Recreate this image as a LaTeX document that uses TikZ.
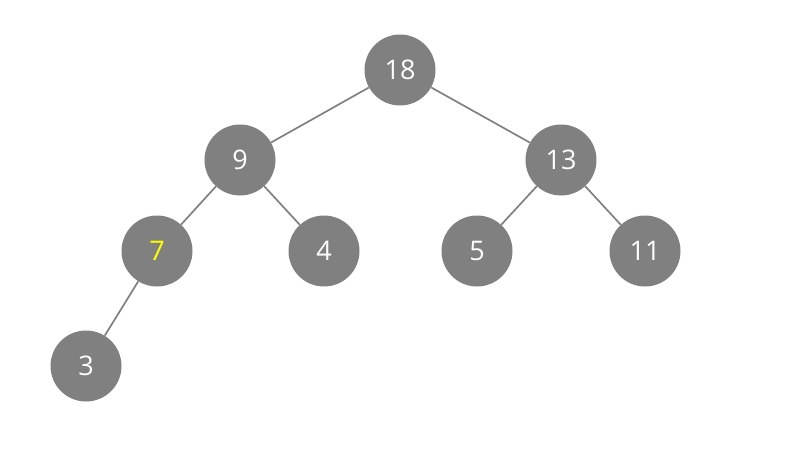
\documentclass[tikz,border=0pt]{standalone}
\usepackage{fontspec}
\setmainfont{Open Sans}
\definecolor{nodeGrey}{HTML}{808080}
\definecolor{edgeGrey}{HTML}{808080}
\definecolor{hiYell}{HTML}{FFFF00}
\begin{document}
\begin{tikzpicture}[x=1pt, y=-1pt, font=\fontsize{27}{27}\selectfont,
    key/.style={circle, fill=nodeGrey, minimum size=71pt, inner sep=0pt, text=white},
    link/.style={draw=edgeGrey, line width=1.7pt}]
  % canvas (800 x 450)
  \useasboundingbox (0,0) rectangle (800,450);

  % ---------------- keys
  \node[key] (k18) at (400,70) {18};
  \node[key] (k9) at (240,160) {9};
  \node[key] (k13) at (561,160) {13};
  \node[key, text=hiYell] (k7) at (157,251) {7};
  \node[key] (k4) at (324,251) {4};
  \node[key] (k5) at (477,251) {5};
  \node[key] (k11) at (645,251) {11};
  \node[key] (k3) at (86,366) {3};

  % ---------------- links
  \draw[link] (k18) -- (k9);
  \draw[link] (k18) -- (k13);
  \draw[link] (k9) -- (k7);
  \draw[link] (k9) -- (k4);
  \draw[link] (k13) -- (k5);
  \draw[link] (k13) -- (k11);
  \draw[link] (k7) -- (k3);
\end{tikzpicture}
\end{document}
